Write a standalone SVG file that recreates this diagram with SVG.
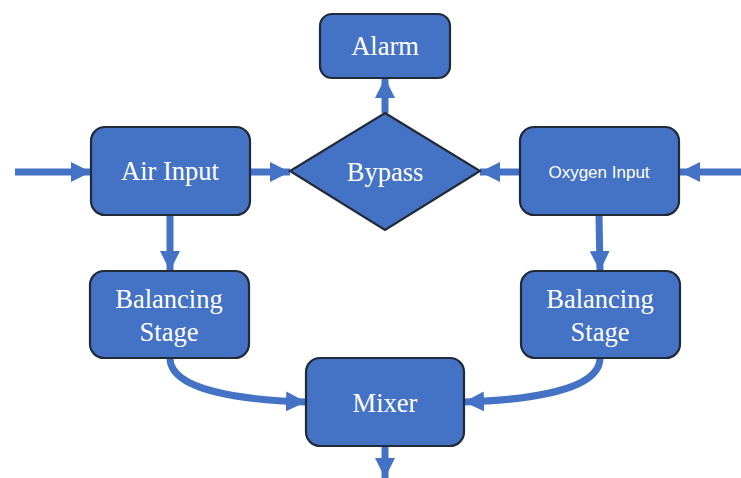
<svg xmlns="http://www.w3.org/2000/svg" width="741" height="478" viewBox="0 0 741 478">
<defs>
<style>
.box{fill:#4472C4;stroke:#222a38;stroke-width:2.2}
.t{font-family:"Liberation Serif","Times New Roman",serif;font-size:26.5px;fill:#ffffff;text-anchor:middle}
.s{font-family:"Liberation Sans",Arial,sans-serif;font-size:17px;fill:#ffffff;text-anchor:middle}
.c{fill:none;stroke:#4472C4;stroke-width:7}
</style>
<marker id="ah" viewBox="0 0 20 20" refX="20" refY="10" markerWidth="20" markerHeight="20" markerUnits="userSpaceOnUse" orient="auto">
<path d="M0,0 L20,10 L0,20 Z" fill="#4472C4"/>
</marker>
</defs>
<g id="connectors">
<path class="c" d="M15,172 L91,172" marker-end="url(#ah)"/>
<path class="c" d="M250,172 L290,172" marker-end="url(#ah)"/>
<path class="c" d="M741,172 L680,172" marker-end="url(#ah)"/>
<path class="c" d="M520,172 L480,172" marker-end="url(#ah)"/>
<path class="c" d="M385,113 L385,78" marker-end="url(#ah)"/>
<path class="c" d="M170,215 L170,271" marker-end="url(#ah)"/>
<path class="c" d="M599,215 L600,271" marker-end="url(#ah)"/>
<path class="c" d="M170,358 C170,390 240,400 306,402" marker-end="url(#ah)"/>
<path class="c" d="M600,358 C600,390 530,400 464,402" marker-end="url(#ah)"/>
<path class="c" d="M385,446 L385,478" marker-end="url(#ah)"/>
</g>
<g id="alarm">
<rect class="box" x="320" y="14" width="130" height="64" rx="12"/>
<text class="t" x="385" y="55">Alarm</text>
</g>
<g id="bypass">
<path class="box" d="M385,113 L480,171 L385,230 L290,171 Z"/>
<text class="t" x="385" y="181">Bypass</text>
</g>
<g id="air-input">
<rect class="box" x="91" y="127" width="159" height="88" rx="14"/>
<text class="t" x="170" y="180">Air Input</text>
</g>
<g id="oxygen-input">
<rect class="box" x="520" y="127" width="159" height="88" rx="14"/>
<text class="s" x="599" y="178">Oxygen Input</text>
</g>
<g id="balancing-left">
<rect class="box" x="90" y="271" width="159" height="87" rx="14"/>
<text class="t" x="169" y="308">Balancing</text>
<text class="t" x="169" y="341">Stage</text>
</g>
<g id="balancing-right">
<rect class="box" x="521" y="271" width="159" height="87" rx="14"/>
<text class="t" x="600" y="308">Balancing</text>
<text class="t" x="600" y="341">Stage</text>
</g>
<g id="mixer">
<rect class="box" x="306" y="358" width="158" height="88" rx="14"/>
<text class="t" x="385" y="412">Mixer</text>
</g>
</svg>
